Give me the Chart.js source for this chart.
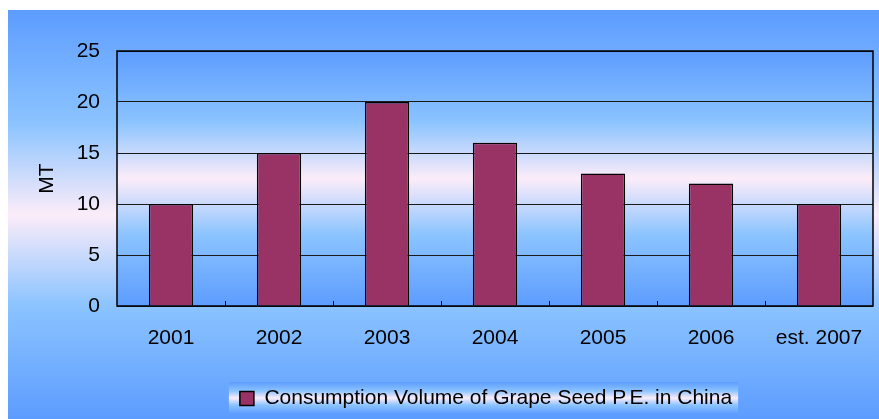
<!DOCTYPE html>
<html>
<head>
<meta charset="utf-8">
<script src="https://cdn.jsdelivr.net/npm/chart.js@4.4.0/dist/chart.umd.min.js"></script>
<style>
  html, body { margin: 0; padding: 0; background: #ffffff; }
  #wrap { width: 879px; height: 419px; position: relative; }
</style>
</head>
<body>
<div id="wrap"><canvas id="grapeChart"></canvas></div>
<script>
// data
const years = ['2001', '2002', '2003', '2004', '2005', '2006', 'est. 2007'];
const volumes = [10, 15, 20, 16, 13, 12, 10];
const seriesName = 'Consumption Volume of Grape Seed P.E. in China';
const yTicks = [0, 5, 10, 15, 20, 25];

const FONT = "'Liberation Sans', Arial, sans-serif";

function skyGradient(ctx, top, bottom) {
    const g = ctx.createLinearGradient(0, top, 0, bottom);
    g.addColorStop(0, '#5d9cff');
    g.addColorStop(0.28, '#8cc4ff');
    g.addColorStop(0.5, '#fcecf9');
    g.addColorStop(0.72, '#8cc4ff');
    g.addColorStop(1, '#5d9cff');
    return g;
}

// backgrounds: outer panel, plot area and legend box
const backdrop = {
    id: 'backdrop',
    afterLayout(chart) {
        // legend sits a little left of the plot centre
        chart.legend.left -= 9;
        chart.legend.right -= 9;
    },
    beforeDraw(chart) {
        const ctx = chart.ctx;
        const area = chart.chartArea;
        ctx.save();
        ctx.fillStyle = skyGradient(ctx, 10, chart.height);
        ctx.fillRect(8, 10, chart.width - 8, chart.height - 10);
        ctx.fillStyle = skyGradient(ctx, area.top, area.bottom);
        ctx.fillRect(area.left, area.top, area.right - area.left, area.bottom - area.top);
        const hit = chart.legend.legendHitBoxes[0];
        if (hit) {
            const bx = hit.left - 11, by = hit.top - 6;
            const bw = hit.width + 17, bh = hit.height + 11;
            ctx.fillStyle = skyGradient(ctx, by, by + bh);
            ctx.fillRect(bx, by, bw, bh);
        }
        ctx.restore();
    },
    afterDatasetsDraw(chart) {
        const ctx = chart.ctx;
        const area = chart.chartArea;
        const x = chart.scales.x;
        ctx.save();
        ctx.strokeStyle = '#000000';
        ctx.lineWidth = 1.5;
        ctx.strokeRect(area.left, area.top, area.right - area.left, area.bottom - area.top);
        ctx.lineWidth = 1;
        ctx.beginPath();
        for (let i = 1; i < years.length; i++) {
            const px = Math.round(x.getPixelForValue(i - 0.5)) + 0.5;
            ctx.moveTo(px, area.bottom);
            ctx.lineTo(px, area.bottom - 5);
        }
        ctx.stroke();
        ctx.restore();
    }
};

new Chart(document.getElementById('grapeChart'), {
    type: 'bar',
    data: {
        labels: years,
        datasets: [{
            label: seriesName,
            data: volumes,
            backgroundColor: '#993366',
            borderColor: '#000000',
            borderWidth: 1.5,
            barPercentage: 0.5,
            categoryPercentage: 0.82
        }]
    },
    options: {
        responsive: true,
        maintainAspectRatio: false,
        animation: false,
        layout: {
            padding: { left: 0, right: 6, top: 51, bottom: 0 }
        },
        plugins: {
            legend: {
                display: true,
                position: 'bottom',
                fullSize: false,
                labels: {
                    color: '#000000',
                    font: { family: FONT, size: 21 },
                    boxWidth: 14,
                    boxHeight: 14,
                    padding: 8
                }
            },
            tooltip: { enabled: false }
        },
        scales: {
            x: {
                grid: { display: false, drawTicks: false },
                border: { display: false },
                ticks: {
                    color: '#000000',
                    font: { family: FONT, size: 21 },
                    padding: 20,
                    maxRotation: 0
                },
                afterFit(scale) {
                    scale.height = 74;
                    scale.paddingLeft = 0;
                    scale.paddingRight = 0;
                }
            },
            y: {
                min: 0,
                max: 25,
                afterBuildTicks(scale) {
                    scale.ticks = yTicks.map(v => ({ value: v }));
                },
                grid: { color: '#1a1a1a', lineWidth: 1, drawTicks: false },
                border: { display: false },
                ticks: {
                    color: '#000000',
                    font: { family: FONT, size: 21 },
                    padding: 17
                },
                title: {
                    display: true,
                    text: 'MT',
                    color: '#000000',
                    font: { family: FONT, size: 21 },
                    padding: { top: 35, bottom: 0 }
                },
                afterFit(scale) { scale.width = 117; }
            }
        }
    },
    plugins: [backdrop]
});
</script>
</body>
</html>
